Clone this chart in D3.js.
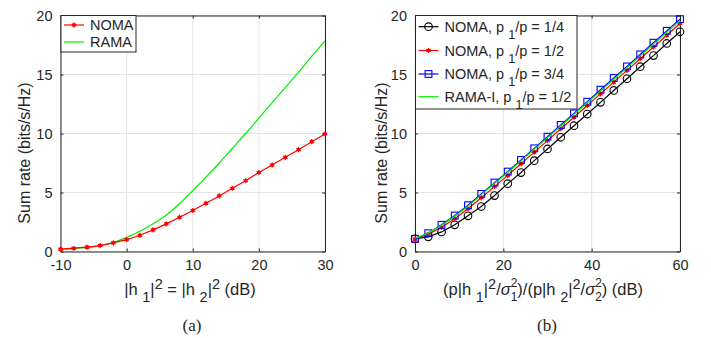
<!DOCTYPE html>
<html>
<head>
<meta charset="utf-8">
<script src="https://cdn.jsdelivr.net/npm/d3@7"></script>
<style>
  body { margin: 0; background: #fff; }
  text { font-family: "Liberation Sans", Arial, sans-serif; fill: #262626; }
</style>
</head>
<body>
<svg id="chart" width="711" height="338"></svg>
<script>
// ---- data: panel (a) ----
const xA = [-10, -8, -6, -4, -2, 0, 2, 4, 6, 8, 10, 12, 14, 16, 18, 20, 22, 24, 26, 28, 30];
const nomaA = [0.2, 0.28, 0.37, 0.5, 0.73, 1.0, 1.38, 1.83, 2.34, 2.9, 3.47, 4.09, 4.71, 5.36, 6.0, 6.69, 7.33, 7.98, 8.63, 9.31, 9.96];
const ramaA = [0.17, 0.24, 0.34, 0.5, 0.78, 1.2, 1.72, 2.35, 3.1, 4.05, 5.15, 6.3, 7.5, 8.75, 10.0, 11.3, 12.6, 13.9, 15.2, 16.55, 17.86];
const xTicksA = [-10, 0, 10, 20, 30];

// ---- data: panel (b) ----
const xB = [0, 3, 6, 9, 12, 15, 18, 21, 24, 27, 30, 33, 36, 39, 42, 45, 48, 51, 54, 57, 60];
const noma14 = [1.07, 1.24, 1.66, 2.26, 3.02, 3.81, 4.74, 5.75, 6.69, 7.7, 8.69, 9.68, 10.66, 11.65, 12.64, 13.65, 14.64, 15.66, 16.6, 17.63, 18.62];
const noma12 = [1.05, 1.45, 2.05, 2.78, 3.62, 4.55, 5.5, 6.45, 7.44, 8.42, 9.4, 10.4, 11.38, 12.37, 13.36, 14.35, 15.35, 16.34, 17.33, 18.33, 19.32];
const noma34 = [1.07, 1.55, 2.26, 3.05, 3.92, 4.88, 5.84, 6.77, 7.76, 8.74, 9.73, 10.72, 11.7, 12.69, 13.71, 14.7, 15.68, 16.7, 17.69, 18.7, 19.69];
const ramaI = [1.12, 1.58, 2.22, 2.98, 3.85, 4.8, 5.76, 6.7, 7.68, 8.66, 9.65, 10.63, 11.62, 12.6, 13.6, 14.6, 15.58, 16.58, 17.57, 18.57, 19.56];
const xTicksB = [0, 20, 40, 60];

const yTicks = [0, 5, 10, 15, 20];

const svg = d3.select("#chart");
const plotTop = 15.5, plotBottom = 251.5;

// draws one axes box with grid, ticks and labels
function makeAxes(left, right, xDomain, xTicks, ylabelX) {
  const x = d3.scaleLinear().domain(xDomain).range([left, right]);
  const y = d3.scaleLinear().domain([0, 20]).range([plotBottom, plotTop]);
  const g = svg.append("g");

  // grid
  g.selectAll(".gx").data(xTicks).enter().append("line")
    .attr("x1", d => x(d)).attr("x2", d => x(d))
    .attr("y1", plotTop).attr("y2", plotBottom)
    .attr("stroke", "#e3e3e3").attr("stroke-width", 1);
  g.selectAll(".gy").data(yTicks).enter().append("line")
    .attr("x1", left).attr("x2", right)
    .attr("y1", d => y(d)).attr("y2", d => y(d))
    .attr("stroke", "#e3e3e3").attr("stroke-width", 1);

  // axes (ticks point inward)
  const fmt = d => String(d);
  const xb = g.append("g").attr("transform", "translate(0," + plotBottom + ")")
    .call(d3.axisBottom(x).tickValues(xTicks).tickFormat(fmt).tickSizeInner(-3).tickSizeOuter(0).tickPadding(8));
  const xt = g.append("g").attr("transform", "translate(0," + plotTop + ")")
    .call(d3.axisTop(x).tickValues(xTicks).tickSizeInner(-3).tickSizeOuter(0).tickFormat(""));
  const yl = g.append("g").attr("transform", "translate(" + left + ",0)")
    .call(d3.axisLeft(y).tickValues(yTicks).tickFormat(fmt).tickSizeInner(-3).tickSizeOuter(0).tickPadding(8));
  const yr = g.append("g").attr("transform", "translate(" + right + ",0)")
    .call(d3.axisRight(y).tickValues(yTicks).tickSizeInner(-3).tickSizeOuter(0).tickFormat(""));
  [xb, xt, yl, yr].forEach(a => {
    a.selectAll("path").attr("stroke", "#262626");
    a.selectAll("line").attr("stroke", "#262626");
    a.selectAll("text").attr("font-size", 14.5).attr("fill", "#262626");
  });

  // y label
  svg.append("text")
    .attr("transform", "translate(" + ylabelX + ",153) rotate(-90)")
    .attr("text-anchor", "middle").attr("font-size", 16)
    .text("Sum rate (bits/s/Hz)");

  return { x, y };
}

function drawLine(ax, xs, ys, color) {
  svg.append("path")
    .datum(xs.map((d, i) => [d, ys[i]]))
    .attr("fill", "none").attr("stroke", color).attr("stroke-width", 1.2)
    .attr("d", d3.line().x(d => ax.x(d[0])).y(d => ax.y(d[1])));
}

function drawSmooth(ax, xs, ys, color) {
  svg.append("path")
    .datum(xs.map((d, i) => [d, ys[i]]))
    .attr("fill", "none").attr("stroke", color).attr("stroke-width", 1.2)
    .attr("d", d3.line().curve(d3.curveMonotoneX).x(d => ax.x(d[0])).y(d => ax.y(d[1])));
}

function marker(g, type, cx, cy, color) {
  if (type === "star") {
    g.append("circle").attr("cx", cx).attr("cy", cy).attr("r", 1.8).attr("fill", color);
    const s = d3.symbol().type(d3.symbolAsterisk).size(18);
    g.append("path").attr("d", s()).attr("transform", "translate(" + cx + "," + cy + ")")
      .attr("stroke", color).attr("stroke-width", 1.2).attr("fill", "none");
  } else if (type === "circle") {
    g.append("circle").attr("cx", cx).attr("cy", cy).attr("r", 3.8)
      .attr("fill", "none").attr("stroke", color).attr("stroke-width", 1.1);
  } else if (type === "square") {
    g.append("rect").attr("x", cx - 3.4).attr("y", cy - 3.4).attr("width", 6.8).attr("height", 6.8)
      .attr("fill", "none").attr("stroke", color).attr("stroke-width", 1.1);
  }
}

function drawMarkers(ax, xs, ys, type, color) {
  const g = svg.append("g");
  xs.forEach((d, i) => marker(g, type, ax.x(d), ax.y(ys[i]), color));
}

// text with tex-like sub/superscripts, using relative shifts so anchoring stays whole
function texText(t, size, parts) {
  let off = 0;
  const shift = (target) => { const d = target - off; off = target; return d; };
  parts.forEach(p => {
    const [s, kind] = p;
    if (kind === "n") t.append("tspan").attr("dy", shift(0)).text(s);
    else if (kind === "i") t.append("tspan").attr("dy", shift(0)).attr("font-style", "italic").text(s);
    else if (kind === "sub") t.append("tspan").attr("dy", shift(7)).attr("font-size", size * 0.88).text(s);
    else if (kind === "sup") t.append("tspan").attr("dy", shift(-6)).attr("font-size", size * 0.88).text(s);
    else if (kind === "stack") {
      const ss = size * 0.72;
      t.append("tspan").attr("dy", shift(-8)).attr("font-size", ss).text(s[0]);
      t.append("tspan").attr("dy", shift(6)).attr("dx", -ss * 0.556).attr("font-size", ss).text(s[1]);
    }
  });
  return t;
}

// ---- panel (a) ----
const axA = makeAxes(60.5, 325, [-10, 30], xTicksA, 30);
drawSmooth(axA, xA, ramaA, "#00ee00");
drawLine(axA, xA, nomaA, "#ff0000");
drawMarkers(axA, xA, nomaA, "star", "#ff0000");

// ---- panel (b) ----
const axB = makeAxes(415, 680, [0, 60], xTicksB, 387);
drawLine(axB, xB, noma14, "#000000");
drawMarkers(axB, xB, noma14, "circle", "#000000");
drawLine(axB, xB, noma12, "#ff0000");
drawMarkers(axB, xB, noma12, "star", "#ff0000");
drawLine(axB, xB, noma34, "#0000ff");
drawMarkers(axB, xB, noma34, "square", "#0000ff");
drawSmooth(axB, xB, ramaI, "#00ee00");

// ---- legends ----
function legend(x0, y0, w, h, rows) {
  const g = svg.append("g");
  g.append("rect").attr("x", x0).attr("y", y0).attr("width", w).attr("height", h)
    .attr("fill", "#fff").attr("stroke", "#262626").attr("stroke-width", 1);
  rows.forEach(r => {
    g.append("line").attr("x1", x0 + 3).attr("x2", x0 + 23).attr("y1", r.y).attr("y2", r.y)
      .attr("stroke", r.color).attr("stroke-width", 1.2);
    if (r.marker) marker(g, r.marker, x0 + 13, r.y, r.color);
    const t = g.append("text").attr("x", x0 + 29).attr("y", r.y + 5).attr("font-size", 14.5);
    texText(t, 14.5, r.parts);
  });
}

legend(61, 15.5, 75, 36.5, [
  { y: 25, color: "#ff0000", marker: "star", parts: [["NOMA", "n"]] },
  { y: 42, color: "#00ee00", parts: [["RAMA", "n"]] }
]);

legend(415.5, 15.5, 161.5, 93.5, [
  { y: 26.7, color: "#000000", marker: "circle", parts: [["NOMA, p ", "n"], ["1", "sub"], ["/p = 1/4", "n"]] },
  { y: 50.5, color: "#ff0000", marker: "star", parts: [["NOMA, p ", "n"], ["1", "sub"], ["/p = 1/2", "n"]] },
  { y: 74, color: "#0000ff", marker: "square", parts: [["NOMA, p ", "n"], ["1", "sub"], ["/p = 3/4", "n"]] },
  { y: 96.7, color: "#00ee00", parts: [["RAMA-I, p ", "n"], ["1", "sub"], ["/p = 1/2", "n"]] }
]);

// ---- x labels ----
texText(svg.append("text").attr("x", 190).attr("y", 295).attr("font-size", 16.5).attr("text-anchor", "middle"), 16.5,
  [["|h ", "n"], ["1", "sub"], ["|", "n"], ["2", "sup"], [" = |h  ", "n"], ["2", "sub"], ["|", "n"], ["2", "sup"], [" (dB)", "n"]]);
texText(svg.append("text").attr("x", 543).attr("y", 295).attr("font-size", 16.5).attr("text-anchor", "middle"), 16.5,
  [["(p|h ", "n"], ["1", "sub"], ["|", "n"], ["2", "sup"], ["/", "n"], ["σ", "i"], [["2", "1"], "stack"],
   [")/(p|h  ", "n"], ["2", "sub"], ["|", "n"], ["2", "sup"], ["/", "n"], ["σ", "i"], [["2", "2"], "stack"], [") (dB)", "n"]]);

// ---- panel captions ----
svg.append("text").attr("x", 192).attr("y", 331).attr("text-anchor", "middle")
  .style("font-family", "Liberation Serif, serif").attr("font-size", 17)
  .text("(a)");
svg.append("text").attr("x", 547).attr("y", 331).attr("text-anchor", "middle")
  .style("font-family", "Liberation Serif, serif").attr("font-size", 17)
  .text("(b)");
</script>
</body>
</html>
